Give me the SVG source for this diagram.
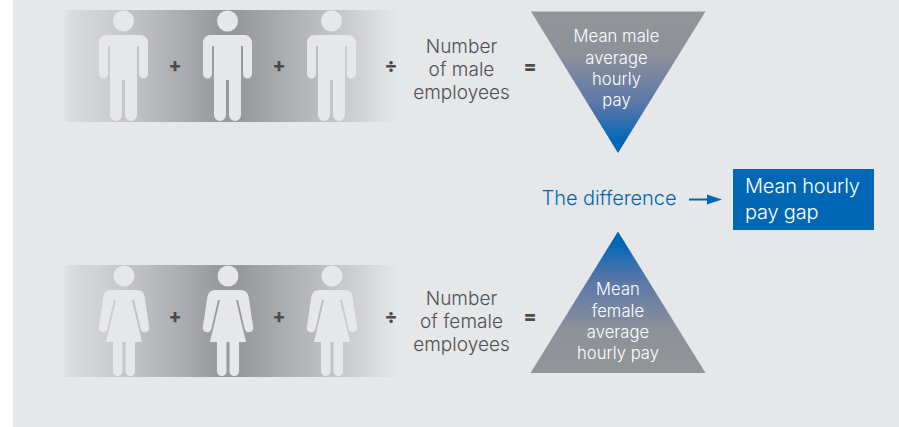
<svg xmlns="http://www.w3.org/2000/svg" width="899" height="427" viewBox="0 0 899 427">
<style>
text{font-family:"Inter","Liberation Sans",sans-serif;font-weight:300}
.lab{font-size:19px;fill:#4f5052;text-anchor:middle;letter-spacing:.02px}
.tri{font-size:16.600px;fill:#fff;text-anchor:middle;letter-spacing:.05px}
.op{font-size:19px;font-weight:800;fill:#4a4b4d;text-anchor:middle}
.p{fill:#e6e7e9}
.gap{font-size:20px;fill:#fff;letter-spacing:-.2px}
</style>
<defs>
<linearGradient id="band"><stop offset="0" stop-color="#e6e7e9"/><stop offset=".025" stop-color="#dadbdd"/><stop offset=".12" stop-color="#cfd0d2"/><stop offset=".3" stop-color="#b4b5b8"/><stop offset=".47" stop-color="#98999c"/><stop offset=".53" stop-color="#98999c"/><stop offset=".75" stop-color="#b9babd"/><stop offset=".88" stop-color="#d0d1d3"/><stop offset="1" stop-color="#e6e7e9"/></linearGradient>
<linearGradient id="dn" x1="0" y1="0" x2="0" y2="1"><stop offset="0" stop-color="#939598"/><stop offset=".3" stop-color="#8d9199"/><stop offset=".65" stop-color="#5c77a8"/><stop offset=".92" stop-color="#0067b5"/></linearGradient>
<linearGradient id="up" x1="0" y1="1" x2="0" y2="0"><stop offset="0" stop-color="#939598"/><stop offset=".3" stop-color="#8d9199"/><stop offset=".65" stop-color="#5c77a8"/><stop offset=".92" stop-color="#0067b5"/></linearGradient>
<g id="man"><circle cx="0" cy="21" r="10.500" class="p"/><path class="p" d="M-17 35H17A7.500 7.500 0 0 1 24.500 42.500V74A4.500 4.500 0 0 1 15.500 74V46H13.500V115A6 6 0 0 1 1.500 115V80H-1.500V115A6 6 0 0 1 -13.500 115V46H-15.500V74A4.500 4.500 0 0 1 -24.500 74V42.500A7.500 7.500 0 0 1 -17 35Z"/></g>
<g id="woman"><circle cx="0" cy="26" r="10.500" class="p"/><path class="p" d="M-13 40H13C17 40 19.500 42 20.500 46L25 76A4.200 4.200 0 0 1 16.800 79.500L10 50H8L18 92H11V121.500A4.750 4.750 0 0 1 1.500 121.500V92H-1.500V121.500A4.750 4.750 0 0 1 -11 121.500V92H-18L-8 50H-10L-16.800 79.500A4.200 4.200 0 0 1 -25 76L-20.500 46C-19.500 42 -17 40 -13 40Z"/></g>
</defs>
<rect width="899" height="427" fill="#fff"/>
<rect x="13" y="0" width="886" height="427" fill="#e6e7e9"/>
<g id="male-row">
<rect x="62" y="10" width="336" height="112" fill="url(#band)"/>
<use href="#man" x="123.500"/><use href="#man" x="227.500"/><use href="#man" x="331.500"/>
<text class="op" x="175" y="72">+</text><text class="op" x="279" y="72">+</text><text class="op" x="391" y="72">÷</text>
</g>
<g id="female-row">
<rect x="62" y="265" width="336" height="112" fill="url(#band)"/>
<use href="#woman" x="124" y="250"/><use href="#woman" x="228" y="250"/><use href="#woman" x="332" y="250"/>
<text class="op" x="175" y="323">+</text><text class="op" x="279" y="323">+</text><text class="op" x="391" y="323">÷</text>
</g>
<g id="male-count"><text class="lab"><tspan x="461.500" y="53">Number</tspan><tspan x="461.500" y="76">of male</tspan><tspan x="461.500" y="99">employees</tspan></text><text class="op" x="530" y="73">=</text></g>
<g id="female-count"><text class="lab"><tspan x="461.500" y="305">Number</tspan><tspan x="461.500" y="328">of female</tspan><tspan x="461.500" y="351">employees</tspan></text><text class="op" x="530" y="323">=</text></g>
<g id="male-mean"><path d="M531 11.500H705.500L618 153Z" fill="url(#dn)"/><text class="tri"><tspan x="616.500" y="42">Mean male</tspan><tspan x="616.500" y="64">average</tspan><tspan x="616.500" y="85">hourly</tspan><tspan x="616.500" y="106">pay</tspan></text></g>
<g id="female-mean"><path d="M530.500 373H705.500L618 231.500Z" fill="url(#up)"/><text class="tri"><tspan x="618" y="295">Mean</tspan><tspan x="618" y="317">female</tspan><tspan x="618" y="338">average</tspan><tspan x="618" y="359">hourly pay</tspan></text></g>
<g id="difference"><text x="541.500" y="205" font-size="20" fill="#0067b5" letter-spacing="-.05">The difference</text></g>
<g id="connectors"><path d="M689 199.500H708" stroke="#0067b5" stroke-width="2" fill="none"/><path d="M707 194.500L722 199.500L707 204.500Z" fill="#0067b5"/></g>
<g id="gap"><rect x="733" y="169" width="141" height="61" fill="#0067b5"/><text class="gap"><tspan x="745" y="193">Mean hourly</tspan><tspan x="745" y="219">pay gap</tspan></text></g>
</svg>
